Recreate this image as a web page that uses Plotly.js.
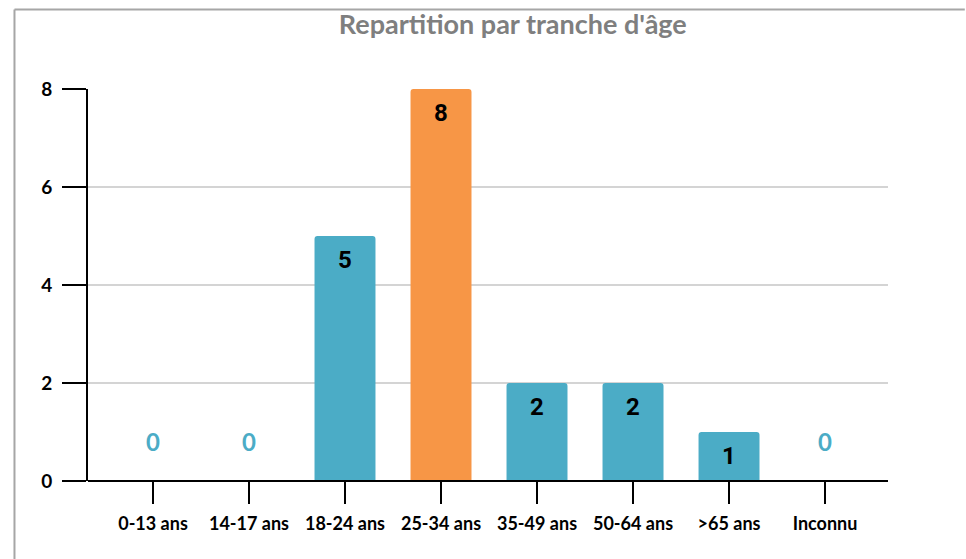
<!DOCTYPE html>
<html>
<head>
<meta charset="utf-8">
<script src="https://cdn.plot.ly/plotly-3.0.1.min.js"></script>
<style>
html,body{margin:0;padding:0;background:#fff;}
#chart{width:966px;height:559px;}
</style>
</head>
<body>
<div id="chart"></div>
<script>
const categories = ["0-13 ans","14-17 ans","18-24 ans","25-34 ans","35-49 ans","50-64 ans",">65 ans","Inconnu"];
const counts = [0, 0, 5, 8, 2, 2, 1, 0];
const highlight = "25-34 ans";
const yTicks = [0, 2, 4, 6, 8];

const TEAL = "#4BACC6";
const ORANGE = "#F79646";
const FONT = "Lato, 'Open Sans', sans-serif";

const barColors = categories.map(c => c === highlight ? ORANGE : TEAL);

const trace = {
  type: "bar",
  x: categories,
  y: counts,
  marker: {color: barColors, cornerradius: 3, line: {width: 0}},
  width: 0.635,
  hoverinfo: "x+y"
};

const annotations = categories.map((c, i) => {
  const zero = counts[i] === 0;
  return {
    x: c, y: counts[i], xref: "x", yref: "y",
    text: "<b>" + String(counts[i]) + "</b>",
    showarrow: false,
    yshift: zero ? 40 : -24,
    font: zero ? {family: FONT, size: 24, color: TEAL}
               : {family: "Roboto, 'Liberation Sans', Arial, sans-serif", size: 24, color: "#000"}
  };
});

const layout = {
  width: 966, height: 559,
  margin: {l: 88, r: 78, t: 89, b: 78},
  paper_bgcolor: "#fff", plot_bgcolor: "#fff",
  showlegend: false,
  title: {
    text: "<b>Repartition par tranche d'âge</b>",
    font: {family: FONT, size: 27, color: "#7F7F7F"},
    x: 0.531, xref: "paper", xanchor: "center",
    y: 1 - 25/559, yref: "container", yanchor: "middle"
  },
  xaxis: {
    type: "category",
    range: [-0.677, 7.656],
    showline: false,
    ticks: "outside", ticklen: 22, tickwidth: 2, tickcolor: "#000",
    tickfont: {family: FONT, size: 18, color: "#000", weight: "bold"},
    ticklabelstandoff: 4,
    showgrid: false, zeroline: false, fixedrange: true
  },
  yaxis: {
    range: [0, 8],
    tickvals: yTicks,
    ticktext: yTicks.map(String),
    showline: true, linecolor: "#000", linewidth: 2,
    ticks: "outside", ticklen: 24, tickwidth: 2, tickcolor: "#000",
    tickfont: {family: FONT, size: 19, color: "#000", weight: "bold"},
    ticklabelstandoff: 6,
    showgrid: true, gridcolor: "#D4D4D4", gridwidth: 2,
    zeroline: false, fixedrange: true
  },
  annotations: annotations,
  shapes: [
    {type: "line", xref: "paper", yref: "paper", x0: 0, x1: 1, y0: 0, y1: 0,
     line: {color: "#000", width: 2}, layer: "above"},
    {type: "line", xref: "paper", yref: "paper", x0: -0.0919, x1: 1.096, y0: 1.2028, y1: 1.2028,
     line: {color: "#A6A6A6", width: 2}},
    {type: "line", xref: "paper", yref: "paper", x0: -0.0919, x1: -0.0919, y0: -0.3, y1: 1.2028,
     line: {color: "#A6A6A6", width: 2}},
    {type: "line", xref: "paper", yref: "paper", x0: 1.0981, x1: 1.0981, y0: -0.3, y1: 1.2028,
     line: {color: "#E0E0E0", width: 1}}
  ]
};

Plotly.newPlot("chart", [trace], layout, {displayModeBar: false, staticPlot: true});
</script>
</body>
</html>
